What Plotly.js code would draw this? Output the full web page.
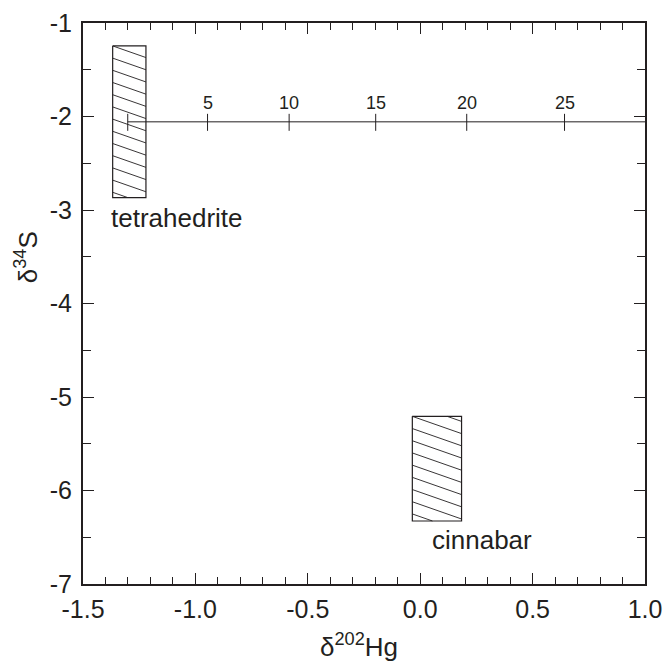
<!DOCTYPE html>
<html>
<head>
<meta charset="utf-8">
<script src="https://cdn.plot.ly/plotly-3.0.1.min.js"></script>
<style>html,body{margin:0;padding:0;background:#fff;}#chart{width:666px;height:661px;}</style>
</head>
<body>
<div id="chart"></div>
<script>
// ---- data ----
const boxNames = ["tetrahedrite", "cinnabar"];
const boxX0 = [-1.368, -0.035];
const boxX1 = [-1.220, 0.184];
const boxYTop = [-1.245, -5.207];
const boxYBot = [-2.868, -6.326];

const xTickVals = [-1.5, -1.0, -0.5, 0.0, 0.5, 1.0];
const xTickText = ["-1.5", "-1.0", "-0.5", "0.0", "0.5", "1.0"];
const yTickVals = [-7, -6, -5, -4, -3, -2, -1];
const yTickText = ["-7", "-6", "-5", "-4", "-3", "-2", "-1"];

// inner (secondary) scale drawn inside the plot
const innerScaleVals = [0, 5, 10, 15, 20, 25];
const innerScaleX = [-1.301, -0.946, -0.583, -0.198, 0.207, 0.642];
const innerScaleY = -2.057;
const innerScaleEnd = 1.0;

// ---- layout constants ----
const W = 666, H = 661;
const M = {l: 83, r: 21, t: 23, b: 77};
const xRange = [-1.5, 1.0];
const yRange = [-7, -1];
const ink = '#231f20';
const font = 'Liberation Sans, Arial, sans-serif';

const plotW = W - M.l - M.r, plotH = H - M.t - M.b;
const kx = plotW / (xRange[1] - xRange[0]);   // px per x unit
const ky = plotH / (yRange[1] - yRange[0]);   // px per y unit

const traces = [];

// boxes + hatch
const hatchSlope = 0.35, hatchGap = 12.2;
for (let i = 0; i < boxNames.length; i++) {
  const x0 = boxX0[i], x1 = boxX1[i], yt = boxYTop[i], yb = boxYBot[i];
  traces.push({
    x: [x0, x1, x1, x0, x0], y: [yt, yt, yb, yb, yt],
    mode: 'lines', line: {color: ink, width: 1.2}, hoverinfo: 'skip', showlegend: false
  });
  const bw = (x1 - x0) * kx, bh = (yt - yb) * ky;
  const hx = [], hy = [];
  const kmin = Math.ceil(-hatchSlope * bw / hatchGap), kmax = Math.floor(bh / hatchGap);
  for (let k = kmin; k <= kmax; k++) {
    const c = k * hatchGap;
    const xa = Math.max(0, -c / hatchSlope), xb = Math.min(bw, (bh - c) / hatchSlope);
    if (xb - xa < 0.5) continue;
    hx.push(x0 + xa / kx, x0 + xb / kx, null);
    hy.push(yt - (hatchSlope * xa + c) / ky, yt - (hatchSlope * xb + c) / ky, null);
  }
  traces.push({x: hx, y: hy, mode: 'lines', line: {color: ink, width: 0.9},
    hoverinfo: 'skip', showlegend: false, connectgaps: false});
}

// inner scale line and ticks
traces.push({x: [innerScaleX[0], innerScaleEnd], y: [innerScaleY, innerScaleY],
  mode: 'lines', line: {color: ink, width: 1}, hoverinfo: 'skip', showlegend: false});
const tx = [], ty = [];
innerScaleX.forEach(v => { tx.push(v, v, null); ty.push(innerScaleY + 8 / ky, innerScaleY - 9 / ky, null); });
traces.push({x: tx, y: ty, mode: 'lines', line: {color: ink, width: 1}, hoverinfo: 'skip', showlegend: false});

const annotations = [];
innerScaleVals.forEach((v, i) => {
  if (v === 0) return;
  annotations.push({x: innerScaleX[i], y: innerScaleY, xref: 'x', yref: 'y', text: String(v),
    showarrow: false, yshift: 19, xanchor: 'center', yanchor: 'middle',
    font: {family: font, size: 18, color: ink}});
});
// box labels
annotations.push({x: boxX0[0], y: -3.085, xref: 'x', yref: 'y', text: boxNames[0], showarrow: false,
  xanchor: 'left', yanchor: 'middle', xshift: -4, font: {family: font, size: 26, color: ink}});
annotations.push({x: boxX0[1], y: -6.528, xref: 'x', yref: 'y', text: boxNames[1], showarrow: false,
  xanchor: 'left', yanchor: 'middle', xshift: 18, font: {family: font, size: 26, color: ink}});
// axis titles
annotations.push({x: 0.491, y: -0.109, xref: 'paper', yref: 'paper', text: 'δ<sup>202</sup>Hg',
  showarrow: false, xanchor: 'center', yanchor: 'middle', font: {family: font, size: 26, color: ink}});
annotations.push({x: -0.1, y: 0.582, xref: 'paper', yref: 'paper', text: 'δ<sup>34</sup>S',
  showarrow: false, textangle: -90, xanchor: 'center', yanchor: 'middle', font: {family: font, size: 26, color: ink}});

const axisCommon = {
  showgrid: false, zeroline: false, showline: true, linecolor: ink, linewidth: 2,
  mirror: 'allticks', ticks: 'inside', ticklen: 11, tickwidth: 1, tickcolor: ink,
  tickfont: {family: font, size: 25, color: ink}, fixedrange: true
};

const layout = {
  width: W, height: H, margin: M, paper_bgcolor: '#fff', plot_bgcolor: '#fff',
  showlegend: false,
  xaxis: Object.assign({}, axisCommon, {range: xRange, tickmode: 'array', tickvals: xTickVals, ticktext: xTickText,
    minor: {dtick: 0.1, tick0: 0, ticks: 'inside', ticklen: 7, tickwidth: 1, tickcolor: ink}, ticklabelstandoff: 2}),
  yaxis: Object.assign({}, axisCommon, {range: yRange, tickmode: 'array', tickvals: yTickVals, ticktext: yTickText,
    minor: {dtick: 0.5, tick0: 0, ticks: 'inside', ticklen: 8, tickwidth: 1, tickcolor: ink}, ticklabelstandoff: 4}),
  annotations: annotations
};

Plotly.newPlot('chart', traces, layout, {displayModeBar: false, staticPlot: true});
</script>
</body>
</html>
